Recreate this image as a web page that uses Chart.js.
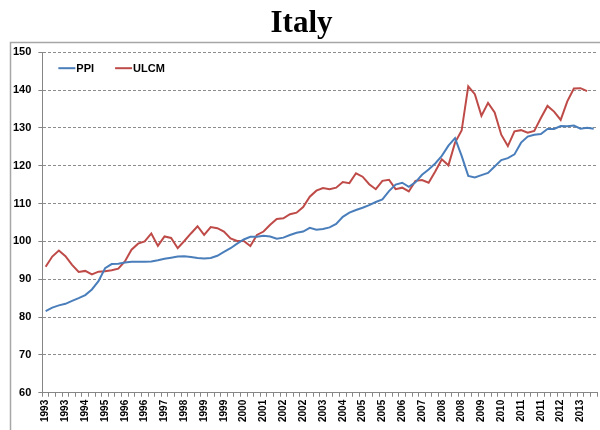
<!DOCTYPE html>
<html>
<head>
<meta charset="utf-8">
<script src="https://cdn.jsdelivr.net/npm/chart.js@4.4.1/dist/chart.umd.min.js"></script>
<style>
  html, body { margin: 0; padding: 0; background: #ffffff; }
  #wrap { position: relative; width: 600px; height: 430px; }
</style>
</head>
<body>
<div id="wrap"><canvas id="c" width="600" height="430"></canvas></div>
<script>
// ---- Data (quarterly, 1993Q1 - 2013Q4) ----
const years = [1993,1994,1995,1996,1997,1998,1999,2000,2001,2002,2003,2004,2005,2006,2007,2008,2009,2010,2011,2012,2013];
const categories = [];
years.forEach(y => { for (let q = 0; q < 4; q++) categories.push(String(y)); });

const ppi = [
  81.6, 82.5, 83.1, 83.5, 84.3, 85.0, 85.8, 87.3, 89.5, 92.9,
  94.0, 94.1, 94.4, 94.6, 94.6, 94.6, 94.7, 95.0, 95.4, 95.7,
  96.0, 96.1, 95.9, 95.6, 95.5, 95.6, 96.2, 97.2, 98.2, 99.4,
  100.5, 101.2, 101.2, 101.5, 101.3, 100.7, 101.0, 101.7, 102.3, 102.6,
  103.6, 103.1, 103.3, 103.7, 104.6, 106.5, 107.6, 108.3, 108.9, 109.6,
  110.4, 111.1, 113.3, 115.0, 115.5, 114.4, 115.6, 117.6, 119.0, 120.6,
  122.6, 125.3, 127.3, 122.6, 117.3, 116.9, 117.5, 118.1, 119.8, 121.5,
  122.0, 123.0, 126.1, 127.7, 128.2, 128.4, 129.7, 129.7, 130.5, 130.4,
  130.6, 129.8, 130.0, 129.8
];
const ulcm = [
  93.3, 96.0, 97.6, 96.1, 93.8, 91.9, 92.2, 91.3, 92.0, 92.1,
  92.4, 92.8, 94.7, 97.8, 99.4, 100.0, 102.1, 98.8, 101.3, 100.9,
  98.2, 100.1, 102.1, 104.0, 101.7, 103.8, 103.5, 102.6, 100.8, 100.1,
  100.1, 98.8, 101.7, 102.6, 104.4, 105.9, 106.1, 107.2, 107.6, 109.1,
  111.8, 113.4, 114.1, 113.8, 114.2, 115.7, 115.4, 118.0, 117.1, 115.1,
  113.8, 116.0, 116.3, 113.8, 114.2, 113.2, 116.0, 116.2, 115.5, 118.5,
  121.7, 120.1, 126.1, 129.3, 141.0, 138.9, 133.2, 136.6, 134.1, 128.2,
  125.2, 129.1, 129.4, 128.7, 129.2, 132.6, 135.8, 134.3, 132.1, 137.0,
  140.4, 140.5, 139.7, null
];
const seriesNames = ['PPI', 'ULCM'];
const yTicks = [60, 70, 80, 90, 100, 110, 120, 130, 140, 150];
const labelEvery = 3;

// ---- Plugins ----
const framePlugin = {
  id: 'frame',
  beforeDraw(chart) {
    const ctx = chart.ctx;
    ctx.save();
    ctx.strokeStyle = '#a6a6a6';
    ctx.lineWidth = 1.5;
    ctx.strokeRect(10.5, 42.5, 700, 500);
    ctx.restore();
  }
};

const insideLegend = {
  id: 'insideLegend',
  afterDraw(chart) {
    const ctx = chart.ctx;
    const area = chart.chartArea;
    const y = area.top + 16;
    let x = area.left + 16;
    ctx.save();
    ctx.font = 'bold 11px "Liberation Sans", Arial, sans-serif';
    ctx.textBaseline = 'middle';
    ctx.textAlign = 'left';
    chart.data.datasets.forEach(ds => {
      ctx.strokeStyle = ds.borderColor;
      ctx.lineWidth = 2;
      ctx.beginPath();
      ctx.moveTo(x, y);
      ctx.lineTo(x + 17, y);
      ctx.stroke();
      ctx.fillStyle = '#000000';
      ctx.fillText(ds.label, x + 18, y + 0.5);
      x += 18 + ctx.measureText(ds.label).width + 21;
    });
    ctx.restore();
  }
};

new Chart(document.getElementById('c'), {
  type: 'line',
  data: {
    labels: categories,
    datasets: [
      { label: seriesNames[0], data: ppi, borderColor: '#4a7ebb', backgroundColor: '#4a7ebb',
        borderWidth: 2, pointRadius: 0, tension: 0, fill: false },
      { label: seriesNames[1], data: ulcm, borderColor: '#be4b48', backgroundColor: '#be4b48',
        borderWidth: 2, pointRadius: 0, tension: 0, fill: false, spanGaps: false }
    ]
  },
  options: {
    responsive: false,
    animation: false,
    devicePixelRatio: 1,
    layout: { padding: { left: 6, right: 3, top: 0, bottom: 5 } },
    plugins: {
      legend: { display: false },
      tooltip: { enabled: false },
      title: {
        display: true,
        text: 'Italy',
        color: '#000000',
        font: { family: '"Liberation Serif", "Times New Roman", serif', size: 31, weight: 'bold' },
        padding: { top: 5, bottom: 10 }
      }
    },
    scales: {
      x: {
        type: 'category',
        offset: true,
        afterFit: (scale) => { scale.paddingRight = 0; scale.paddingLeft = 0; },
        grid: {
          display: true,
          drawOnChartArea: false,
          drawTicks: true,
          tickLength: 4,
          offset: true,
          color: '#868686',
          tickColor: '#868686'
        },
        border: { display: true, color: '#868686', width: 1 },
        ticks: {
          autoSkip: false,
          maxRotation: 90,
          minRotation: 90,
          padding: 3,
          color: '#000000',
          font: { family: '"Liberation Sans", Arial, sans-serif', size: 10, weight: 'bold' },
          callback: function (value, index) {
            return index % labelEvery === 0 ? categories[index] : '';
          }
        }
      },
      y: {
        min: yTicks[0],
        max: yTicks[yTicks.length - 1],
        afterBuildTicks: (scale) => { scale.ticks = yTicks.map(v => ({ value: v })); },
        grid: {
          display: true,
          drawOnChartArea: true,
          drawTicks: true,
          tickLength: 4,
          color: '#8c8c8c',
          tickColor: '#868686',
          tickBorderDash: []
        },
        border: { display: true, color: '#868686', width: 1, dash: [3, 2] },
        ticks: {
          padding: 7,
          color: '#000000',
          font: { family: '"Liberation Sans", Arial, sans-serif', size: 11, weight: 'bold' }
        }
      }
    }
  },
  plugins: [framePlugin, insideLegend]
});
</script>
</body>
</html>
